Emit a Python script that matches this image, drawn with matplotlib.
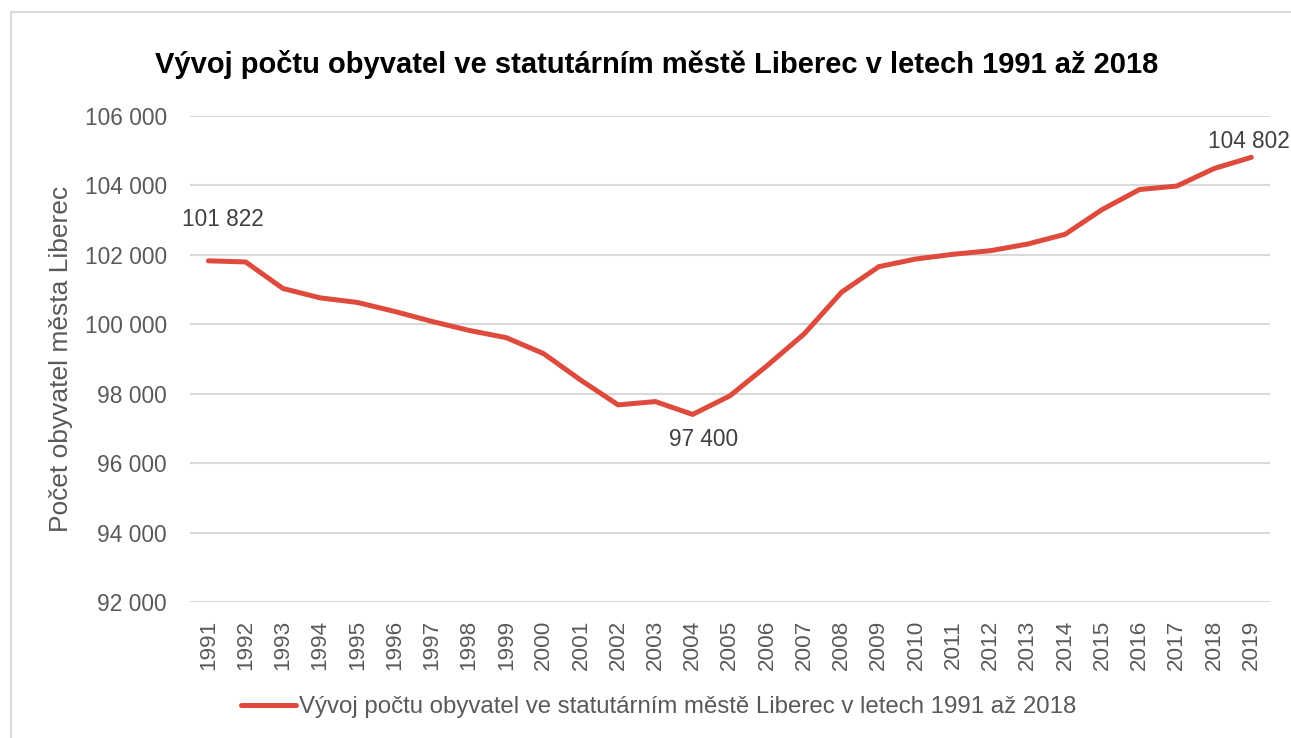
import matplotlib.pyplot as plt
from matplotlib.patches import Rectangle

# Liberec population by year
years = list(range(1991, 2020))
population = [101822, 101790, 101026, 100756, 100624, 100365, 100078, 99819,
              99609, 99150, 98385, 97675, 97770, 97400, 97934, 98805, 99724,
              100920, 101655, 101876, 102011, 102115, 102307, 102586, 103302,
              103876, 103975, 104480, 104802]
yticks = list(range(92000, 106001, 2000))
title = 'Vývoj počtu obyvatel ve statutárním městě Liberec v letech 1991 až 2018'
ylabel = 'Počet obyvatel města Liberec'

# which points get a value label, and where (pixel offsets)
labelled = {1991: (14, 41), 2004: (11, -25), 2019: (-2, 16)}

red = '#DE4A3C'
grey = '#595959'

plt.rcParams['font.family'] = ['Liberation Sans', 'DejaVu Sans']

def fmt(v):
    return f'{v:,.0f}'.replace(',', ' ')

fig = plt.figure(figsize=(12.91, 7.38), dpi=100)
ax = fig.add_axes([0.147, 0.1843, 0.8367, 0.6589])

xs = list(range(len(years)))
line, = ax.plot(xs, population, color=red, lw=3.6, solid_capstyle='round',
                solid_joinstyle='round', label=title, zorder=3)

ax.set_xlim(-0.5, len(years) - 0.5)
ax.set_ylim(yticks[0], yticks[-1])
ax.set_yticks(yticks)
ax.set_yticklabels([fmt(v) for v in yticks])
ax.set_xticks(xs)
ax.set_xticklabels([str(y) for y in years], rotation=90)
ax.tick_params(axis='y', length=0, pad=16.5, labelsize=16.4, labelcolor=grey)
ax.tick_params(axis='x', length=0, pad=13, labelsize=16.2, labelcolor=grey)
ax.grid(axis='y', color='#D9D9D9', lw=1.5)
ax.set_axisbelow(True)
for s in ax.spines.values():
    s.set_visible(False)

ax.set_ylabel(ylabel, fontsize=19, color=grey)
ax.yaxis.set_label_coords(-0.108, 0.5)

for i, (yr, p) in enumerate(zip(years, population)):
    if yr in labelled:
        ax.annotate(fmt(p), (i, p), xytext=labelled[yr], textcoords='offset pixels',
                    ha='center', va='center', fontsize=16.3, color='#404040')

fig.text(0.509, 0.913, title, ha='center', va='center', fontsize=21,
         fontweight='bold', color='black')

leg = fig.legend(handles=[line], loc='center', bbox_to_anchor=(0.51, 0.042),
                 frameon=False, fontsize=17.3, handlelength=2.3, handletextpad=0.12)
for t in leg.get_texts():
    t.set_color(grey)

# outer chart frame (only top and left edges fall inside the image)
fig.patches.append(Rectangle((11 / 1291, -0.1), 1.2, 1.1 - 12 / 738,
                             transform=fig.transFigure, fill=False,
                             edgecolor='#D9D9D9', lw=1.5))

fig.savefig('out.png', dpi=100)
